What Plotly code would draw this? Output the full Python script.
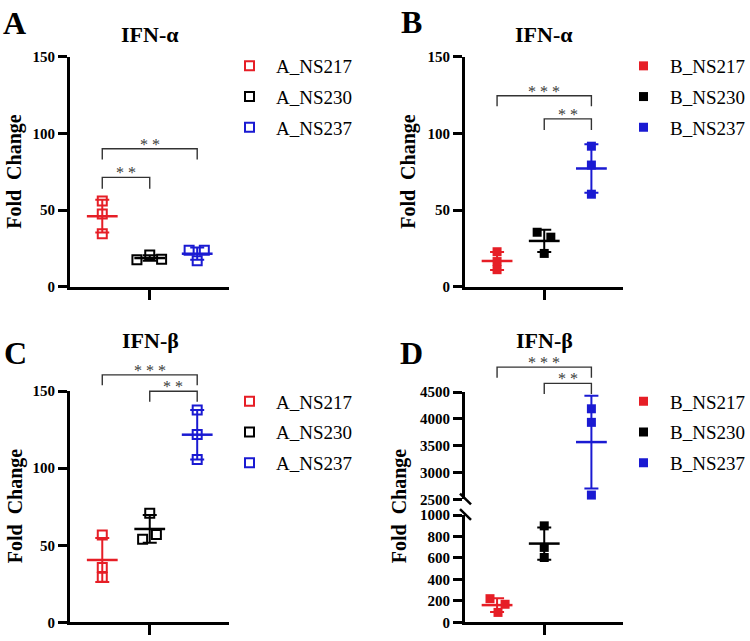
import numpy as np
import plotly.graph_objects as go

W, H = 750, 641
FONT = "Liberation Serif, Times New Roman, serif"

# ---------------- data ----------------
labels_A = ["A_NS217", "A_NS230", "A_NS237"]
labels_B = ["B_NS217", "B_NS230", "B_NS237"]
group_pos = [1, 2, 3]

# Panel A : IFN-alpha, A strains (fold change)
A_NS217_ifna = [55.9, 47.5, 34.7]
A_NS230_ifna = [17.6, 20.8, 18.0]
A_NS237_ifna = [23.9, 23.9, 17.0]
# Panel B : IFN-alpha, B strains
B_NS217_ifna = [22.9, 16.5, 11.2]
B_NS230_ifna = [35.6, 32.4, 21.8]
B_NS237_ifna = [91.7, 79.4, 60.4]
# Panel C : IFN-beta, A strains
A_NS217_ifnb = [56.6, 35.5, 29.2]
A_NS230_ifnb = [70.8, 53.9, 57.0]
A_NS237_ifnb = [137.8, 121.9, 105.6]
# Panel D : IFN-beta, B strains
B_NS217_ifnb = [220, 168, 92]
B_NS230_ifnb = [899, 698, 604]
B_NS237_ifnb = [4190, 3937, 2581]

# horizontal scatter offsets of the replicate points (as in the picture)
jitter_A = [[0, 0, 0], [-0.27, 0, 0.25], [-0.17, 0.15, 0]]
jitter_B = [[0, 0, 0], [-0.15, 0.14, 0], [0, 0, 0]]
jitter_C = [[0, 0, 0], [0, -0.15, 0.14], [0, 0, 0]]
jitter_D = [[-0.15, 0.17, 0.02], [0, 0, 0], [0, 0, 0]]

# significance brackets: (group from, group to, stars, bracket level, leg bottom)
sig_A = [(1, 3, "**", 90, 83), (1, 2, "**", 71.4, 64)]
sig_B = [(1, 3, "***", 124.6, 117.8), (2, 3, "**", 109.5, 102.3)]
sig_C = [(1, 3, "***", 160.6, 153.8), (2, 3, "**", 150, 143.2)]
sig_D = [(1, 3, "***", 4967, 4767), (2, 3, "**", 4664, 4464)]

y_ticks_small = [0, 50, 100, 150]
y_ticks_D_low = [0, 200, 400, 600, 800, 1000]
y_ticks_D_high = [2500, 3000, 3500, 4000, 4500]

colors = ["#e61e26", "#000000", "#1a1ad2"]

# ---------------- layout geometry (pixels) ----------------
def px(x):
    return x / W

def py(y):
    return 1 - y / H

XR = [0.32, 3.67]
panels = {
    "A": dict(x0=70, x1=229, y0=286, y1=50),
    "B": dict(x0=465, x1=623, y0=286, y1=50),
    "C": dict(x0=70, x1=229, y0=630, y1=393),
    "D": dict(x0=465, x1=623, y0=630, y1=520),
}
D_top = dict(y0=504, y1=394)

fig = go.Figure()

axis_common = dict(
    showgrid=False, zeroline=False, showline=True, linecolor="black",
    linewidth=3, ticks="outside", ticklen=9, tickwidth=3, tickcolor="black",
    tickfont=dict(family=FONT, size=15, color="black", weight="bold"),
)


def add_points(xa, ya, values, jitter, names, filled, legend, show=True):
    for i, (vals, jit, name) in enumerate(zip(values, jitter, names)):
        vals = np.asarray(vals, dtype=float)
        xs = [group_pos[i] + j for j in jit]
        # mean line + SD error bar
        fig.add_trace(go.Scatter(
            x=[group_pos[i]], y=[vals.mean()], xaxis=xa, yaxis=ya, mode="markers",
            marker=dict(symbol="line-ew", size=22,
                        line=dict(color=colors[i], width=2.5)),
            error_y=dict(type="data", array=[vals.std(ddof=1)], color=colors[i],
                         thickness=2, width=7),
            showlegend=False, hoverinfo="skip", cliponaxis=False))
        fig.add_trace(go.Scatter(
            x=xs, y=vals, xaxis=xa, yaxis=ya, mode="markers", name=name,
            marker=dict(symbol="square" if filled else "square-open", size=9,
                        color=colors[i],
                        line=dict(color=colors[i], width=0 if filled else 2)),
            showlegend=show, legend=legend, legendgroup=legend + name,
            cliponaxis=False))


def add_brackets(xa, ya, sigs):
    for g1, g2, stars, lvl, bot in sigs:
        fig.add_trace(go.Scatter(
            x=[g1, g1, g2, g2], y=[bot, lvl, lvl, bot], xaxis=xa, yaxis=ya,
            mode="lines", line=dict(color="#333333", width=1.4),
            showlegend=False, hoverinfo="skip"))
        fig.add_annotation(
            x=(g1 + g2) / 2, y=lvl, xref=xa, yref=ya, text=" ".join(stars),
            showarrow=False, xanchor="center", yanchor="top", yshift=13,
            borderpad=0, borderwidth=0,
            font=dict(family=FONT, size=16, color="#3a3a3a"))


# ---- Panel A
add_points("x", "y", [A_NS217_ifna, A_NS230_ifna, A_NS237_ifna], jitter_A,
           labels_A, False, "legend")
add_brackets("x", "y", sig_A)
# ---- Panel B
add_points("x2", "y2", [B_NS217_ifna, B_NS230_ifna, B_NS237_ifna], jitter_B,
           labels_B, True, "legend2")
add_brackets("x2", "y2", sig_B)
# ---- Panel C
add_points("x3", "y3", [A_NS217_ifnb, A_NS230_ifnb, A_NS237_ifnb], jitter_C,
           labels_A, False, "legend3")
add_brackets("x3", "y6", sig_C)
# ---- Panel D (broken axis)
add_points("x4", "y4", [B_NS217_ifnb, B_NS230_ifnb], jitter_D[:2],
           labels_B[:2], True, "legend4")
vals = np.asarray(B_NS237_ifnb, dtype=float)
fig.add_trace(go.Scatter(
    x=[3], y=[vals.mean()], xaxis="x4", yaxis="y5", mode="markers",
    marker=dict(symbol="line-ew", size=22, line=dict(color=colors[2], width=2.5)),
    error_y=dict(type="data", array=[vals.std(ddof=1)], color=colors[2],
                 thickness=2, width=7),
    showlegend=False, hoverinfo="skip", cliponaxis=False))
fig.add_trace(go.Scatter(
    x=[3 + j for j in jitter_D[2]], y=vals, xaxis="x4", yaxis="y5",
    mode="markers", name=labels_B[2],
    marker=dict(symbol="square", size=9, color=colors[2]),
    legend="legend4", legendgroup="legend4" + labels_B[2], cliponaxis=False))
add_brackets("x4", "y7", sig_D)

# ---- axes
lay = {}
for k, (pn, ax) in enumerate(panels.items(), start=1):
    sfx = "" if k == 1 else str(k)
    lay["xaxis" + sfx] = dict(
        axis_common, domain=[px(ax["x0"]), px(ax["x1"])], range=XR,
        anchor="y" + sfx, tickvals=[2], showticklabels=False, ticklen=10)
    rng = [0, 150] if pn != "D" else [0, 1000]
    tv = y_ticks_small if pn != "D" else y_ticks_D_low
    lay["yaxis" + sfx] = dict(
        axis_common, domain=[py(ax["y0"]), py(ax["y1"])], range=rng,
        anchor="x" + sfx, tickvals=tv)

lay["yaxis5"] = dict(axis_common, domain=[py(D_top["y0"]), py(D_top["y1"])],
                     range=[2500, 4500], anchor="x4", tickvals=y_ticks_D_high)
# invisible extended axes (same scale) for brackets above the plotting area
C = panels["C"]
ext_C = 330
lay["yaxis6"] = dict(domain=[py(C["y0"]), py(ext_C)],
                     range=[0, 150 * (C["y0"] - ext_C) / (C["y0"] - C["y1"])],
                     anchor="x3", visible=False)
ext_D = 340
lay["yaxis7"] = dict(domain=[py(D_top["y0"]), py(ext_D)],
                     range=[2500, 2500 + 2000 * (D_top["y0"] - ext_D) / (D_top["y0"] - D_top["y1"])],
                     anchor="x4", visible=False)

leg_common = dict(font=dict(family=FONT, size=19, color="black"),
                  bgcolor="rgba(0,0,0,0)", xanchor="left", yanchor="top",
                  tracegroupgap=3, itemwidth=43)
lay["legend"] = dict(leg_common, x=px(223), y=py(40))
lay["legend2"] = dict(leg_common, x=px(617), y=py(40))
lay["legend3"] = dict(leg_common, x=px(223), y=py(384))
lay["legend4"] = dict(leg_common, x=px(617), y=py(384))

fig.update_layout(**lay)

# titles, panel letters, axis titles
titles = [("A", 14, 15, 150, 27, "IFN-α", 15, 168),
          ("B", 411, 14, 544, 27, "IFN-α", 409, 168),
          ("C", 15, 354, 150, 341, "IFN-β", 15, 511),
          ("D", 411, 354, 544, 341, "IFN-β", 399, 511)]
ctr = dict(xref="paper", yref="paper", showarrow=False,
           xanchor="center", yanchor="middle", borderpad=0, borderwidth=0)
for letter, lx, ly, tx, ty, tt, ax_x, ax_y in titles:
    fig.add_annotation(ctr, x=px(lx), y=py(ly), text=letter,
                       font=dict(family=FONT, size=32, color="black", weight="bold"))
    fig.add_annotation(ctr, x=px(tx), y=py(ty), text=tt,
                       font=dict(family=FONT, size=22, color="black", weight="bold"))
    fig.add_annotation(ctr, x=px(ax_x), y=py(ax_y), text="Fold  Change",
                       textangle=-90,
                       font=dict(family=FONT, size=20, color="black", weight="bold"))

# axis break marks in panel D
for yb in (D_top["y0"], panels["D"]["y1"]):
    fig.add_shape(type="line", xref="paper", yref="paper",
                  x0=px(460), x1=px(471), y0=py(yb - 6), y1=py(yb + 5),
                  line=dict(color="black", width=2.5))

fig.update_layout(width=W, height=H, margin=dict(l=0, r=0, t=0, b=0),
                  paper_bgcolor="white", plot_bgcolor="rgba(0,0,0,0)")
fig.write_html("out.html", config={"displayModeBar": False},
               post_script="document.body.style.margin='0px';"
                           "document.body.style.overflow='hidden';")
